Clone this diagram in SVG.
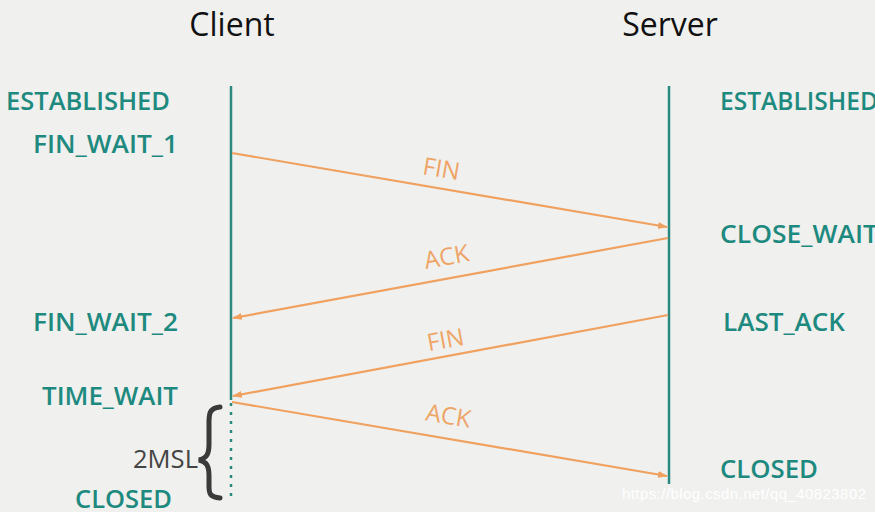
<svg xmlns="http://www.w3.org/2000/svg" width="875" height="512" viewBox="0 0 875 512">
<style>
.title{font-family:"Open Sans","Noto Sans",sans-serif;font-size:32px;fill:#111;text-anchor:middle}
.st{font-family:"Open Sans","Noto Sans",sans-serif;font-size:25px;font-weight:600;fill:#1e8a7f;lengthAdjust:spacingAndGlyphs}
.lbl{font-family:"Open Sans","Noto Sans",sans-serif;font-size:24px;fill:#eea466;text-anchor:middle}
.arr{stroke:#f0a15f;stroke-width:2.2;fill:none;marker-end:url(#ah)}
.life{stroke:#2a8a80;stroke-width:2.5}
</style>
<defs>
<marker id="ah" markerWidth="10" markerHeight="8" refX="9" refY="4" orient="auto" markerUnits="userSpaceOnUse">
<path d="M0,0.5 L10,4 L0,7.5 Z" fill="#f0a15f"/>
</marker>
</defs>
<rect width="875" height="512" fill="#f0f0ee"/>
<g id="client">
<text class="title" x="232" y="36">Client</text>
<line class="life" x1="231" y1="86" x2="231" y2="400"/>
<line class="life" x1="231" y1="403" x2="231" y2="496" stroke-dasharray="3,6"/>
</g>
<g id="server">
<text class="title" x="670" y="36">Server</text>
<line class="life" x1="669" y1="86" x2="669" y2="484"/>
</g>
<g id="client-states">
<text class="st" x="6" y="110" textLength="164" lengthAdjust="spacingAndGlyphs">ESTABLISHED</text>
<text class="st" x="33" y="153" textLength="145" lengthAdjust="spacingAndGlyphs">FIN_WAIT_1</text>
<text class="st" x="33" y="331" textLength="145" lengthAdjust="spacingAndGlyphs">FIN_WAIT_2</text>
<text class="st" x="42" y="405" textLength="136" lengthAdjust="spacingAndGlyphs">TIME_WAIT</text>
<text class="st" x="75" y="508" textLength="97" lengthAdjust="spacingAndGlyphs">CLOSED</text>
</g>
<g id="server-states">
<text class="st" x="720" y="110" textLength="158" lengthAdjust="spacingAndGlyphs">ESTABLISHED</text>
<text class="st" x="720" y="243" textLength="158" lengthAdjust="spacingAndGlyphs">CLOSE_WAIT</text>
<text class="st" x="723" y="331" textLength="122" lengthAdjust="spacingAndGlyphs">LAST_ACK</text>
<text class="st" x="720" y="478" textLength="98" lengthAdjust="spacingAndGlyphs">CLOSED</text>
</g>
<g id="msl">
<text x="133" y="468" font-family="Open Sans,Noto Sans,sans-serif" font-size="26" fill="#444" textLength="65" lengthAdjust="spacingAndGlyphs">2MSL</text>
<path d="M220,407 C208,408 209,416 209,426 L209,444 C209,454 207,458 199,460 C207,462 209,466 209,476 L209,486 C209,494 210,497 220,498" fill="none" stroke="#3a3a3a" stroke-width="5" stroke-linecap="round"/>
</g>
<g id="connectors">
<line class="arr" x1="232" y1="153" x2="667" y2="227"/>
<line class="arr" x1="668" y1="238" x2="233" y2="318"/>
<line class="arr" x1="668" y1="315" x2="233" y2="396"/>
<line class="arr" x1="232" y1="402" x2="667" y2="476"/>
<text class="lbl" transform="translate(440,177) rotate(9.6)">FIN</text>
<text class="lbl" transform="translate(448,265) rotate(-10.3)">ACK</text>
<text class="lbl" transform="translate(447,348) rotate(-10.4)">FIN</text>
<text class="lbl" transform="translate(447,424) rotate(9.6)">ACK</text>
</g>
<text x="622" y="499" font-family="Liberation Sans,Arial,sans-serif" font-size="15" fill="#ffffff" textLength="244">https://blog.csdn.net/qq_40823802</text>
</svg>
